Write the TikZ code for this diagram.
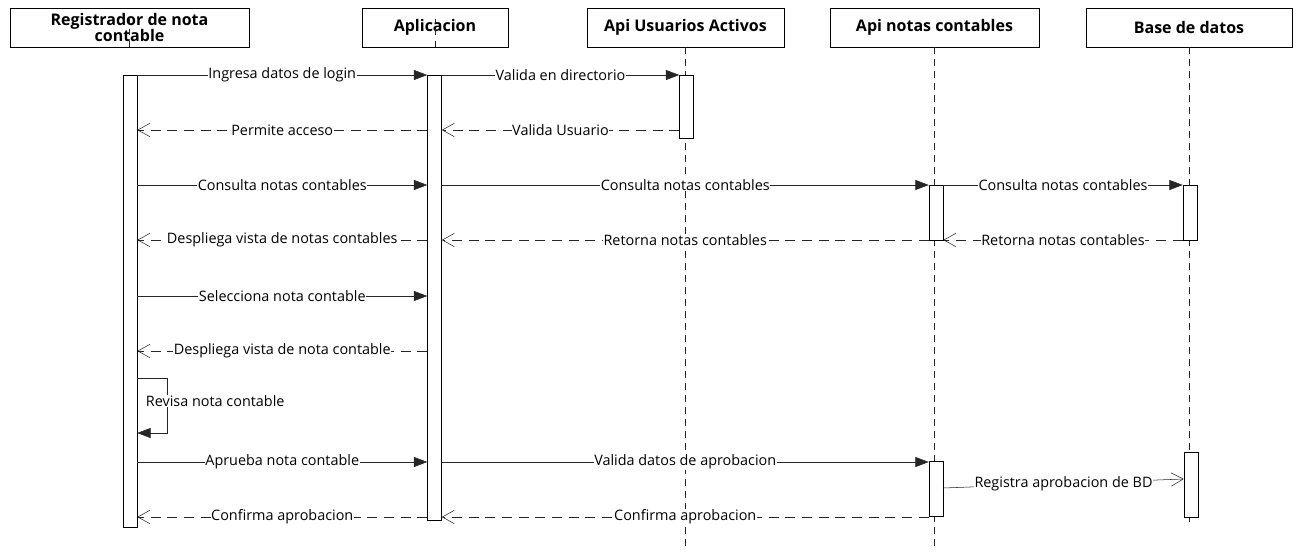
\documentclass[tikz,border=0pt]{standalone}
\usepackage{fontspec}
\setmainfont{Open Sans}
\usetikzlibrary{arrows.meta}

\begin{document}
\begin{tikzpicture}[x=0.75pt,y=-0.75pt,
    actor/.style={draw, fill=white, minimum width=#1, minimum height=29.25pt, inner sep=1pt, font=\bfseries\fontsize{12}{12.5}\selectfont, align=center},
    act/.style={draw, fill=white, minimum width=10.5pt, minimum height=#1, inner sep=0pt},
    life/.style={draw=black!85, dash pattern=on 5pt off 4pt},
    msg/.style={draw=black!85, -{Triangle[length=10pt,width=7.5pt]}},
    ret/.style={draw=black!85, dash pattern=on 7.5pt off 5pt, -{Straight Barb[length=9pt,width=10pt]}},
    open/.style={draw=black!85, -{Straight Barb[length=9pt,width=10pt]}},
    lbl/.style={fill=white, inner sep=0.5pt, font=\fontsize{10.8}{12}\selectfont}]
  \useasboundingbox (0,0) rectangle (1297,554);

  \node[actor=179.25pt] (h1) at (129.5,27.5) {Registrador de nota\\contable};
  \node[actor=109.5pt]  (h2) at (435,27.5)   {Aplicacion};
  \node[actor=147.75pt] (h3) at (685.5,27.5) {Api Usuarios Activos};
  \node[actor=156.75pt] (h4) at (934.5,27.5) {Api notas contables};
  \node[actor=154.5pt]  (h5) at (1189,27.5)  {Base de datos};

  \draw[life] (h1.south) -- ++(0,-28);
  \draw[life] (h2.south) -- ++(0,-28);
  \draw[life] (h3.south) -- (h3.south |- 0,550);
  \draw[life] (h4.south) -- (h4.south |- 0,550);
  \draw[life] (h5.south) -- (h5.south |- 0,527);

  \node[act=339pt]    (a1) at (130,301)    {};
  \node[act=333.75pt] (a2) at (434.5,297.5) {};
  \node[act=47.25pt]  (a3) at (686.5,106.5) {};
  \node[act=41.25pt]  (a4) at (936,212.5)  {};
  \node[act=41.25pt]  (a5) at (1190,212.5) {};
  \node[act=41.25pt]  (a6) at (936,488.5)  {};
  \node[act=48.75pt]  (a7) at (1191,484.5) {};

  \coordinate (r1) at (0,75);
  \coordinate (r2) at (0,130);
  \coordinate (r3) at (0,185);
  \coordinate (r4) at (0,240);
  \coordinate (r5) at (0,296);
  \coordinate (r6) at (0,351);
  \coordinate (r7) at (0,378);
  \coordinate (r8) at (0,433);
  \coordinate (r9) at (0,462);
  \coordinate (r10) at (0,517);

  \draw[msg] (a1.east |- r1) -- node[lbl] {Ingresa datos de login} (a2.west |- r1);
  \draw[msg] (a2.east |- r1) -- node[lbl] {Valida en directorio} (a3.west |- r1);
  \draw[ret] (a2.west |- r2) -- node[lbl] {Permite acceso} (a1.east |- r2);
  \draw[ret] (a3.west |- r2) -- node[lbl] {Valida Usuario} (a2.east |- r2);

  \draw[msg] (a1.east |- r3) -- node[lbl] {Consulta notas contables} (a2.west |- r3);
  \draw[msg] (a2.east |- r3) -- node[lbl] {Consulta notas contables} (a4.west |- r3);
  \draw[msg] (a4.east |- r3) -- node[lbl] {Consulta notas contables} (a5.west |- r3);
  \draw[ret] (a2.west |- r4) -- node[lbl] {Despliega vista de notas contables} (a1.east |- r4);
  \draw[ret] (a4.west |- r4) -- node[lbl] {Retorna notas contables} (a2.east |- r4);
  \draw[ret] (a5.west |- r4) -- node[lbl] {Retorna notas contables} (a4.east |- r4);

  \draw[msg] (a1.east |- r5) -- node[lbl] {Selecciona nota contable} (a2.west |- r5);
  \draw[ret] (a2.west |- r6) -- node[lbl] {Despliega vista de nota contable} (a1.east |- r6);

  \draw[msg] (a1.east |- r7) -- ++(30,0) |- (a1.east |- r8);
  \node[lbl, anchor=west] (rv) at (145,401) {Revisa nota contable};

  \draw[msg] (a1.east |- r9) -- node[lbl] {Aprueba nota contable} (a2.west |- r9);
  \draw[msg] (a2.east |- r9) -- node[lbl] {Valida datos de aprobacion} (a6.west |- r9);
  \draw[open] (a6.east |- 0,488) -- node[lbl] {Registra aprobacion de BD} (a7.west |- 0,479);
  \draw[ret] (a2.west |- r10) -- node[lbl] {Confirma aprobacion} (a1.east |- r10);
  \draw[ret] (a6.west |- r10) -- node[lbl] {Confirma aprobacion} (a2.east |- r10);
\end{tikzpicture}
\end{document}
